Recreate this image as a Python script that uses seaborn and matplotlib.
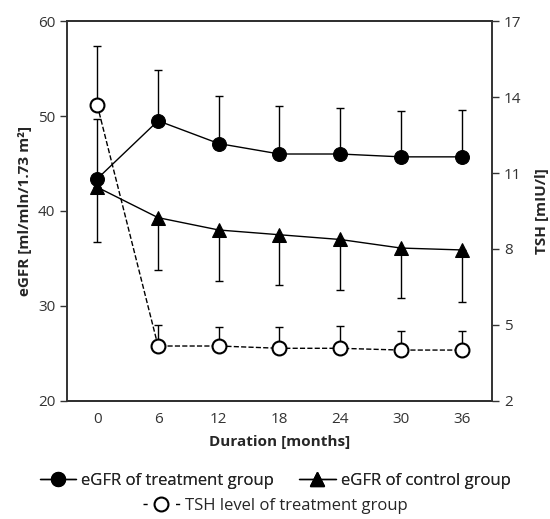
import numpy as np
import pandas as pd
import matplotlib.pyplot as plt
import seaborn as sns
from matplotlib.lines import Line2D

# Dữ liệu
months = [0, 6, 12, 18, 24, 30, 36]
egfr_treat = [43.4, 49.5, 47.1, 46.0, 46.0, 45.7, 45.7]
egfr_treat_sd = [6.3, 5.3, 5.0, 5.1, 4.8, 4.8, 4.9]
egfr_ctrl = [42.5, 39.3, 38.0, 37.5, 37.0, 36.1, 35.9]
egfr_ctrl_sd = [5.8, 5.5, 5.4, 5.3, 5.3, 5.3, 5.5]
tsh = [13.67, 4.17, 4.17, 4.08, 4.08, 4.01, 4.01]
tsh_sd = [2.35, 0.83, 0.76, 0.85, 0.89, 0.75, 0.75]

df = pd.DataFrame({"month": months, "treat": egfr_treat, "ctrl": egfr_ctrl, "tsh": tsh})

sns.set_style("ticks")
plt.rcParams['font.family'] = ['Open Sans', 'DejaVu Sans']
plt.rcParams['axes.edgecolor'] = '#333333'
plt.rcParams['xtick.color'] = '#333333'
plt.rcParams['ytick.color'] = '#333333'

fig = plt.figure(figsize=(5.5, 5.19), dpi=100)
ax = fig.add_axes([0.1218, 0.2274, 0.7727, 0.7321])
ax2 = ax.twinx()

# Thanh sai số (một phía)
ax.errorbar(months, egfr_treat, yerr=[np.zeros(7), egfr_treat_sd], fmt='none',
            ecolor='black', elinewidth=1, capsize=3, capthick=1, zorder=2)
ax.errorbar(months, egfr_ctrl, yerr=[egfr_ctrl_sd, np.zeros(7)], fmt='none',
            ecolor='black', elinewidth=1, capsize=3, capthick=1, zorder=2)
ax2.errorbar(months, tsh, yerr=[np.zeros(7), tsh_sd], fmt='none',
             ecolor='black', elinewidth=1, capsize=3, capthick=1, zorder=2)

# Các đường
sns.lineplot(data=df, x="month", y="treat", ax=ax, color='black', marker='o',
             markersize=10, linewidth=1, markeredgecolor='black', zorder=3)
sns.lineplot(data=df, x="month", y="ctrl", ax=ax, color='black', marker='^',
             markersize=10, linewidth=1, markeredgecolor='black', zorder=3)
sns.lineplot(data=df, x="month", y="tsh", ax=ax2, color='black', marker='o',
             markersize=10, linewidth=1, linestyle='--', markerfacecolor='white',
             markeredgecolor='black', markeredgewidth=1.5, zorder=3)

ax.set_xlim(-3, 39)
ax.set_ylim(20, 60)
ax.set_yticks([20, 30, 40, 50, 60])
ax.set_xticks(months)
ax.tick_params(axis='x', length=0, labelsize=11, pad=8)
ax.tick_params(axis='y', length=5, labelsize=11, width=1)
ax2.set_ylim(2, 17)
ax2.set_yticks([2, 5, 8, 11, 14, 17])
ax2.tick_params(axis='y', length=5, labelsize=11, width=1)
for a in (ax, ax2):
    for s in a.spines.values():
        s.set_visible(True)
        s.set_linewidth(1.2)
ax.spines['top'].set_color('black')
ax.spines['bottom'].set_color('black')

ax.set_xlabel("Duration [months]", fontsize=11, fontweight='bold', labelpad=6)
ax.set_ylabel("eGFR [ml/mln/1.73 m²]", fontsize=11, fontweight='bold')
ax2.set_ylabel("TSH [mIU/l]", fontsize=11, fontweight='bold', labelpad=10)

# Chú thích
h1 = Line2D([], [], color='black', marker='o', markersize=10, linewidth=1)
h2 = Line2D([], [], color='black', marker='^', markersize=10, linewidth=1)
h3 = Line2D([], [], color='black', marker='o', markersize=10, linewidth=1,
            linestyle=(0, (3, 8.7)), markerfacecolor='white', markeredgewidth=1.5)
leg1 = fig.legend([h1, h2], ["eGFR of treatment group", "eGFR of control group"],
                  loc='center', bbox_to_anchor=(0.5, 0.073), ncol=2, frameon=False,
                  fontsize=12, handlelength=2.2, handletextpad=0.3, columnspacing=1.5)
fig.add_artist(leg1)
fig.legend([h3], ["TSH level of treatment group"], loc='center',
           bbox_to_anchor=(0.5, 0.025), frameon=False, fontsize=12,
           handlelength=2.2, handletextpad=0.3)

plt.savefig("out.png", dpi=100)
